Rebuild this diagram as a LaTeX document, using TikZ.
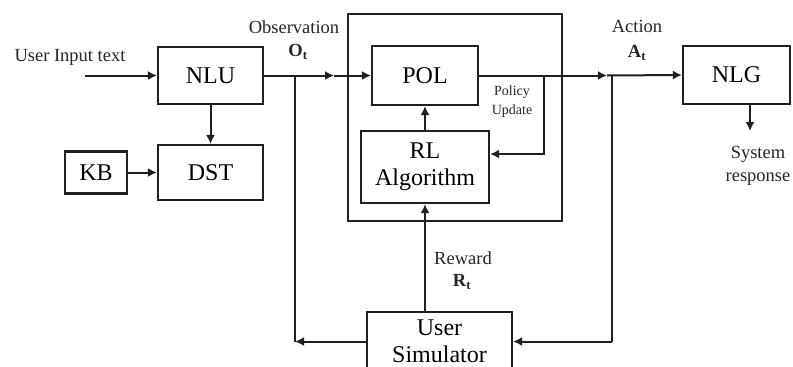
\documentclass[tikz,border=0pt]{standalone}
\usepackage{fontspec}
\setmainfont{Liberation Serif}
\usetikzlibrary{arrows.meta,calc}
\begin{document}
\begin{tikzpicture}[x=1pt,y=-1pt,
  ink/.style={draw=black!88},
  box/.style={ink,line width=2.2pt,minimum width=#1,inner sep=0pt,align=center,font=\fontsize{24}{27}\selectfont},
  conn/.style={ink,line width=2pt},
  arr/.style={conn,-{Latex[length=9pt,width=9pt]}},
  lbl/.style={inner sep=0pt,align=center,text=black!85,font=\fontsize{18.5}{23}\selectfont},
  small/.style={inner sep=0pt,align=center,text=black!85,font=\fontsize{14}{19}\selectfont}]
\useasboundingbox (0,0) rectangle (793,367);
\fill[white] (0,0) rectangle (793,367);
% boxes
\node[ink,line width=2.2pt,minimum width=214pt,minimum height=207pt,inner sep=0pt] (outer) at (455,117.5) {};
\node[box=105pt,minimum height=57pt] (NLU) at (210.5,75.5) {NLU};
\node[box=105pt,minimum height=55pt] (DST) at (210.5,172.5) {DST};
\node[box=62pt,minimum height=42pt] (KB) at (96,172.5) {KB};
\node[box=106pt,minimum height=59pt] (POL) at (425,75.5) {POL};
\node[box=128pt,minimum height=72pt] (RL) at (425,167) {RL\\Algorithm};
\node[box=107pt,minimum height=58pt] (NLG) at (736.5,75) {NLG};
\node[box=145pt,minimum height=59pt] (Sim) at (439.5,341.5) {User\\Simulator};
% coordinates
\coordinate (inp) at (85,75.5);
\coordinate (obsM) at (334,75.5);
\coordinate (obsJ) at (295,75.5);
\coordinate (obsB) at (295,341.5);
\coordinate (actM) at (607,75.5);
\coordinate (actJ) at (612,75.5);
\coordinate (actB) at (612,341.5);
\coordinate (pu1) at (544,75.5);
\coordinate (pu2) at (544,154);
\coordinate (nlgS) at (750,104);
\coordinate (sysr) at (750,131);
% connectors
\draw[arr] (inp) -- (NLU.west);
\draw[arr] (NLU.south) -- (DST.north);
\draw[arr] (KB.east) -- (DST.west);
\draw[arr] (NLU.east) -- (obsM);
\draw[arr] (obsM) -- (POL.west);
\draw[conn] (obsJ) -- (obsB);
\draw[arr] (Sim.west) -- (obsB);
\draw[arr] (POL.east) -- (actM);
\draw[arr] (actM) -- (NLG.west);
\draw[conn] (actJ) -- (actB);
\draw[arr] (actB) -- (Sim.east);
\draw[arr] (pu1) -- (pu2) -- (pu2 -| RL.east);
\draw[arr] (RL.north) -- (POL.south);
\draw[arr] (RL.south |- Sim.north) -- (RL.south);
\draw[arr] (nlgS) -- (sysr);
% labels
\node[lbl] (lin) at (70,57) {User Input text};
\node[lbl] (lobs) at (294,27) {Observation};
\node[lbl] (lot) at (298,52) {\textbf{O}\textsubscript{\textbf{t}}};
\node[lbl] (lact) at (637,26) {Action};
\node[lbl] (lat) at (637,53) {\textbf{A}\textsubscript{\textbf{t}}};
\node[small] (lpu) at (512,101.5) {Policy\\Update};
\node[lbl] (lrew) at (463,258) {Reward};
\node[lbl] (lrt) at (462,282) {\textbf{R}\textsubscript{\textbf{t}}};
\node[lbl] (lsys) at (758,166) {System\\response};
\end{tikzpicture}
\end{document}
